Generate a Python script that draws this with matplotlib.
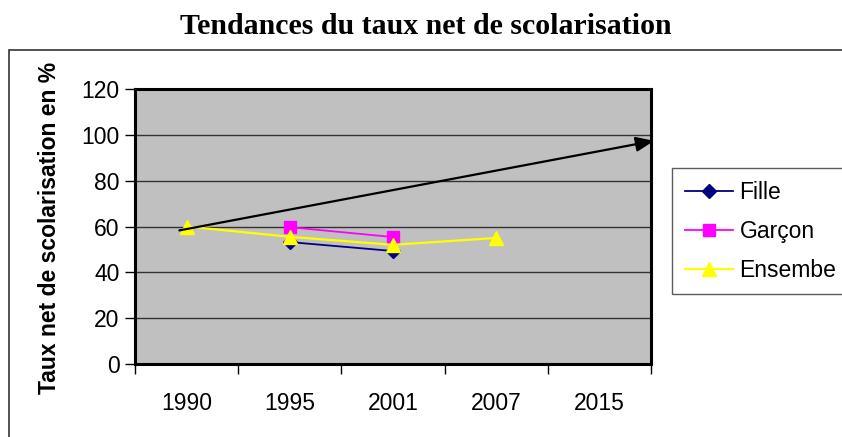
import matplotlib.pyplot as plt
from matplotlib.patches import Rectangle

years = ["1990", "1995", "2001", "2007", "2015"]
fille = [None, 53.2, 49.3, None, None]
garcon = [None, 59.7, 55.4, None, None]
ensemble = [60.0, 55.5, 52.0, 55.0, None]
trend_start = (-0.07, 58.3)
trend_end = (4.53, 97.4)

W, H = 842, 437
fig = plt.figure(figsize=(W / 100, H / 100), dpi=100)
plt.rcParams["font.family"] = ["Liberation Sans", "DejaVu Sans"]

# outer chart border (only top and left are visible in the crop)
fig.add_artist(Rectangle((9 / W, -0.1), 1.2, (H - 50) / H + 0.1, transform=fig.transFigure,
                         fill=False, edgecolor="#333333", linewidth=1.2))

ax = fig.add_axes([135 / W, 1 - 364 / H, (651 - 135) / W, (364 - 89) / H])
ax.set_facecolor("#c0c0c0")
x = list(range(len(years)))


def series(vals):
    xs = [i for i, v in zip(x, vals) if v is not None]
    ys = [v for v in vals if v is not None]
    return xs, ys


xs, ys = series(fille)
ax.plot(xs, ys, color="#000080", marker="D", markersize=7, linewidth=1.3, label="Fille", zorder=3)
xs, ys = series(garcon)
ax.plot(xs, ys, color="#ff00ff", marker="s", markersize=8, linewidth=1.3, label="Garçon", zorder=3)
xs, ys = series(ensemble)
ax.plot(xs, ys, color="#ffff00", marker="^", markersize=10, linewidth=1.6, label="Ensembe", zorder=4)

ax.annotate("", xy=trend_end, xytext=trend_start, annotation_clip=False,
            arrowprops=dict(arrowstyle="-|>,head_length=1.1,head_width=0.45", color="black",
                            linewidth=1.6, shrinkA=0, shrinkB=0), zorder=5)

ax.set_xlim(-0.5, 4.5)
ax.set_ylim(0, 120)
ax.set_yticks(range(0, 121, 20))
ax.set_xticks([i - 0.5 for i in range(len(years) + 1)], minor=False)
ax.set_xticklabels([])
ax.set_xticks(x, minor=True)
ax.set_xticklabels(years, minor=True)
ax.tick_params(axis="x", which="minor", length=0, pad=20, labelsize=16.5)
ax.tick_params(axis="x", which="major", length=7, width=1, direction="out")
ax.tick_params(axis="y", length=7, width=1, direction="out", labelsize=16.5, pad=4)
ax.grid(axis="y", color="#333333", linewidth=1)
ax.set_axisbelow(True)
for s in ax.spines.values():
    s.set_linewidth(2.2)

fig.text(50 / W, 1 - 228 / H, "Taux net de scolarisation en %", rotation=90, ha="center", va="center",
         fontsize=16.5, fontweight="bold")
fig.text(426 / W, 1 - 27 / H, "Tendances du taux net de scolarisation", ha="center", va="center",
         fontsize=21.5, fontweight="bold", family=["Liberation Serif", "DejaVu Serif"])

leg = fig.legend(loc="upper left", bbox_to_anchor=(672 / W, 1 - 168 / H), fontsize=16.5, frameon=True,
                 fancybox=False, edgecolor="#333333", handlelength=2.1, borderpad=0.55,
                 labelspacing=0.7, handletextpad=0.3, borderaxespad=0)
leg.get_frame().set_linewidth(1)

fig.savefig("out.png", dpi=100)
